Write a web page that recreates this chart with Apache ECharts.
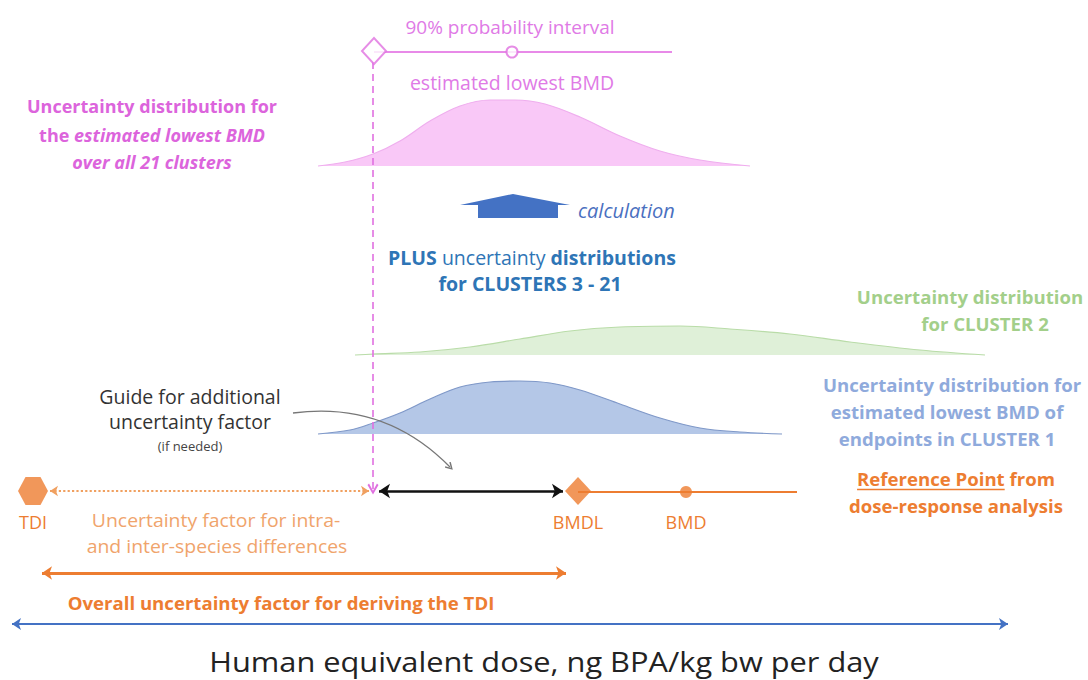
<!DOCTYPE html>
<html><head><meta charset="utf-8">
<script src="https://cdn.jsdelivr.net/npm/echarts@6/dist/echarts.min.js"></script>
<style>html,body{margin:0;padding:0;background:#fff}#c{width:1088px;height:680px}</style>
</head><body><div id="c"></div>
<script>
// ---- data (diagram coordinates: x = dose position, y = vertical position) ----
const pinkCurve  = [[318,166],[345,162],[373,154],[400,141],[430,121],[460,106],[490,100],[515,100],[545,104],[580,117],[620,136],[660,151],[700,160],[750,166]];
const greenCurve = [[355,355],[373,354],[420,352],[470,347],[520,339],[570,331],[620,327],[680,326],[730,329],[790,334],[850,342],[920,350],[985,355]];
const blueCurve  = [[318,434],[350,430],[373,423],[400,413],[430,399],[460,387],[490,382],[520,381],[550,383],[580,390],[620,404],[660,418],[700,428],[740,432],[782,434]];
const houseArrow = [[460,205],[513,194],[570,205],[558,205],[558,218],[478,218],[478,205]];
const intervalLine = [[374,52],[672,52]];
const lowestBmdMarker = [[374,51]];
const estimatedMarker = [[512,52]];
const tdiMarker = [[33,491]];
const bmdlMarker = [[578,491]];
const bmdMarker = [[686,492]];
const rpLine = [[578,492],[797,492]];
const pinkDrop = [[373,62],[373,489]];
const ufDotted = [[50,491],[369,491]];
const extraUF = [[379,491],[563,491]];
const overallUF = [[42,573],[566,573]];
const doseAxis = [[12,624],[1008,624]];
const guideArrow = [[293,413],[450,467]];

const txtInterval = '90% probability interval';
const txtEstimated = 'estimated lowest BMD';
const txtPink = ['Uncertainty distribution for', 'the {i|estimated lowest BMD}', '{i|over all 21 clusters}'];
const txtCalc = 'calculation';
const txtPlus = ['{b|PLUS} uncertainty {b|distributions}', '{b|for CLUSTERS 3 - 21}'];
const txtGreen = ['Uncertainty distribution', 'for CLUSTER 2'];
const txtBlue = ['Uncertainty distribution for', 'estimated lowest BMD of', 'endpoints in CLUSTER 1'];
const txtRPUnderlined = 'Reference Point';
const txtRP = ['Reference Point from', 'dose-response analysis'];
const txtGuide = ['Guide for additional', 'uncertainty factor', '(if needed)'];
const txtMarkers = ['TDI', 'BMDL', 'BMD'];
const txtUF = ['Uncertainty factor for intra-', 'and inter-species differences'];
const txtOverall = 'Overall uncertainty factor for deriving the TDI';
const txtAxis = 'Human equivalent dose, ng BPA/kg bw per day';

const PINK = '#dc64dc', ORANGE = '#ed7d31', BLUE = '#4472c4';
const FONT = '"Open Sans", sans-serif';
const FS = 18.6;   // bold labels
const FR = 19.5;   // regular labels
const CHEVRON = 'path://M5,0 L10,8 L8.6,9.2 L5,3.2 L1.4,9.2 L0,8 Z';

const chart = echarts.init(document.getElementById('c'), null, {renderer: 'svg'});

// underline for "Reference Point" measured from the rendered font
const mctx = document.createElement('canvas').getContext('2d');
mctx.font = 'bold ' + FS + 'px ' + FONT;
const rpFull = mctx.measureText(txtRP[0]).width;
const rpPart = mctx.measureText(txtRPUnderlined).width;
const rpCx = 956, rpY = 478;
const underline = [[rpCx - rpFull / 2, rpY + 11], [rpCx - rpFull / 2 + rpPart, rpY + 11]];

function areaSeries(data, base, fill, stroke) {
  return {type: 'line', data: data, smooth: 0.35, symbol: 'none', silent: true,
    lineStyle: {color: stroke, width: 1.2}, areaStyle: {color: fill, opacity: 1, origin: base}, z: 2};
}
function linesSeries(coords, color, width, type, symbols, size, curveness) {
  return {type: 'lines', coordinateSystem: 'cartesian2d', silent: true, z: 4,
    symbol: symbols, symbolSize: size,
    lineStyle: {color: color, width: width, type: type, curveness: curveness || 0, opacity: 1},
    data: [{coords: coords}]};
}
function txt(x, y, text, style, extra) {
  return Object.assign({type: 'text', x: x, y: y, z: 100, style: Object.assign({
    text: text, fontFamily: FONT, fontSize: FS, align: 'center', verticalAlign: 'middle'}, style)}, extra || {});
}
function rich(color, size, extra) {
  return Object.assign({fill: color, fontSize: size, fontFamily: FONT, fontWeight: 'bold'}, extra);
}

const option = {
  animation: false,
  backgroundColor: '#fff',
  grid: {left: 0, right: 0, top: 0, bottom: 0},
  xAxis: {type: 'value', min: 0, max: 1088, show: false},
  yAxis: {type: 'value', min: 0, max: 680, inverse: true, show: false},
  series: [
    areaSeries(pinkCurve, 166, '#f9c8f7', '#efaeee'),
    areaSeries(greenCurve, 355, '#dff0d8', '#b9dca8'),
    areaSeries(blueCurve, 434, '#b4c7e7', '#7f98c8'),
    {type: 'custom', silent: true, z: 3, data: [0],
      renderItem: function (params, api) {
        return {type: 'polygon', shape: {points: houseArrow.map(function (p) { return api.coord(p); })},
          style: {fill: BLUE}};
      }},
    linesSeries(intervalLine, '#e88ae8', 2, 'solid', ['none', 'none'], 0),
    linesSeries(pinkDrop, '#e070e0', 1.6, [7, 5], ['none', CHEVRON], [12, 11]),
    linesSeries(ufDotted, '#f0a060', 2.2, 'dotted', ['arrow', 'arrow'], 8),
    linesSeries(extraUF, '#111', 2.5, 'solid', ['arrow', 'arrow'], 11),
    linesSeries(rpLine, ORANGE, 2, 'solid', ['none', 'none'], 0),
    linesSeries(overallUF, ORANGE, 3, 'solid', ['arrow', 'arrow'], 10),
    linesSeries(doseAxis, BLUE, 2, 'solid', ['arrow', 'arrow'], 9),
    linesSeries(guideArrow, '#777', 1.3, 'solid', ['none', CHEVRON], [9, 8], 0.25),
    linesSeries(underline, ORANGE, 1.3, 'solid', ['none', 'none'], 0),
    {type: 'scatter', data: lowestBmdMarker, symbol: 'diamond', symbolSize: [24, 26], silent: true, z: 5,
      itemStyle: {color: '#fff', borderColor: '#e070e0', borderWidth: 2}},
    {type: 'scatter', data: estimatedMarker, symbol: 'circle', symbolSize: 11, silent: true, z: 5,
      itemStyle: {color: '#fff', borderColor: '#e070e0', borderWidth: 2}},
    {type: 'scatter', data: tdiMarker, symbol: 'path://M0,43.3 L25,0 L75,0 L100,43.3 L75,86.6 L25,86.6 Z',
      symbolSize: [30, 28], silent: true, z: 5, itemStyle: {color: ORANGE}},
    {type: 'scatter', data: bmdlMarker, symbol: 'diamond', symbolSize: [26, 28], silent: true, z: 5,
      itemStyle: {color: ORANGE}},
    {type: 'scatter', data: bmdMarker, symbol: 'circle', symbolSize: 12, silent: true, z: 5,
      itemStyle: {color: ORANGE}}
  ],
  graphic: [
    txt(510, 27, txtInterval, {fill: '#e07ae6', fontSize: 19}),
    txt(512, 82, txtEstimated, {fill: '#e07ae6', fontSize: 19.5}),
    txt(152, 106, txtPink[0], {fill: PINK, fontWeight: 'bold', fontSize: 18}),
    txt(152, 135, txtPink[1], {fill: PINK, fontWeight: 'bold', fontSize: 18, rich: {i: rich(PINK, 18, {fontStyle: 'italic'})}}),
    txt(152, 162, txtPink[2], {fill: PINK, fontWeight: 'bold', fontSize: 18, rich: {i: rich(PINK, 18, {fontStyle: 'italic'})}}),
    txt(578, 210, txtCalc, {fill: '#4a6fc0', fontStyle: 'italic', align: 'left', fontSize: 20}),
    txt(532, 257, txtPlus[0], {fill: '#2e75b6', fontSize: 19.5, rich: {b: rich('#2e75b6', 19.5)}}),
    txt(530, 283, txtPlus[1], {fill: '#2e75b6', fontSize: 19.5, rich: {b: rich('#2e75b6', 19.5)}}),
    txt(970, 296, txtGreen[0], {fill: '#a3cf8a', fontWeight: 'bold'}),
    txt(985, 323, txtGreen[1], {fill: '#a3cf8a', fontWeight: 'bold'}),
    txt(952, 384, txtBlue[0], {fill: '#8faadc', fontWeight: 'bold'}),
    txt(947, 411, txtBlue[1], {fill: '#8faadc', fontWeight: 'bold'}),
    txt(947, 438, txtBlue[2], {fill: '#8faadc', fontWeight: 'bold'}),
    txt(rpCx, rpY, txtRP[0], {fill: ORANGE, fontWeight: 'bold'}),
    txt(956, 505, txtRP[1], {fill: ORANGE, fontWeight: 'bold'}),
    txt(190, 396, txtGuide[0], {fill: '#333', fontSize: FR}),
    txt(190, 421, txtGuide[1], {fill: '#333', fontSize: FR}),
    txt(190, 446, txtGuide[2], {fill: '#444', fontSize: 13}),
    txt(33, 522, txtMarkers[0], {fill: ORANGE, fontSize: 18}),
    txt(578, 522, txtMarkers[1], {fill: ORANGE, fontSize: 18}),
    txt(686, 522, txtMarkers[2], {fill: ORANGE, fontSize: 18}),
    txt(216, 520, txtUF[0], {fill: '#f0a46c', fontSize: 18.5}, {scaleX: 1.05}),
    txt(217, 546, txtUF[1], {fill: '#f0a46c', fontSize: 18.5}, {scaleX: 1.05}),
    txt(281, 602, txtOverall, {fill: ORANGE, fontWeight: 'bold'}),
    txt(544, 661, txtAxis, {fill: '#222', fontSize: 27}, {scaleX: 1.14})
  ]
};
chart.setOption(option);
</script></body></html>
